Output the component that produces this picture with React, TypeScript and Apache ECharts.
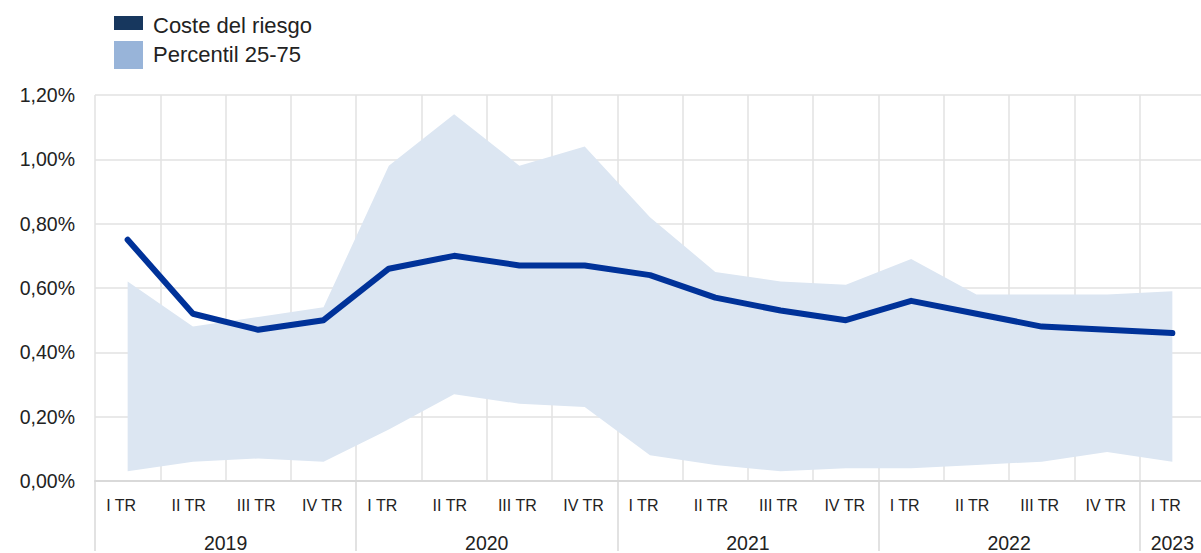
import React, { useEffect, useRef } from "react";
import * as echarts from "echarts";

const quarters = [
  "I TR", "II TR", "III TR", "IV TR",
  "I TR", "II TR", "III TR", "IV TR",
  "I TR", "II TR", "III TR", "IV TR",
  "I TR", "II TR", "III TR", "IV TR",
  "I TR",
];
const yearLabels = ["2019", "2020", "2021", "2022", "2023"];
const yearFirstIndex = [0, 4, 8, 12, 16];
const yearQuarterCount = [4, 4, 4, 4, 1];

const costeDelRiesgo = [0.75, 0.52, 0.47, 0.5, 0.66, 0.7, 0.67, 0.67, 0.64, 0.57, 0.53, 0.5, 0.56, 0.52, 0.48, 0.47, 0.46];
const percentil25 = [0.03, 0.06, 0.07, 0.06, 0.16, 0.27, 0.24, 0.23, 0.08, 0.05, 0.03, 0.04, 0.04, 0.05, 0.06, 0.09, 0.06];
const percentil75 = [0.62, 0.48, 0.51, 0.54, 0.98, 1.14, 0.98, 1.04, 0.82, 0.65, 0.62, 0.61, 0.69, 0.58, 0.58, 0.58, 0.59];

const yMin = 0;
const yMax = 1.2;
const yStep = 0.2;

const legendNames = ["Coste del riesgo", "Percentil 25-75"];

const FONT = "'Liberation Sans', Arial, sans-serif";
const TEXT = "#222222";
const GRID = "#e2e2e2";
const LINE = "#003299";
const BAND = "#dce6f2";

export default function App() {
  const ref = useRef<HTMLDivElement>(null);

  useEffect(() => {
    if (!ref.current) return;
    const chart = echarts.init(ref.current, undefined, { renderer: "svg" });

    const bandWidth = percentil75.map((v, i) => +(v - percentil25[i]).toFixed(4));
    const yearCenters = yearFirstIndex.map((f, i) => f + (yearQuarterCount[i] - 1) / 2);

    chart.setOption({
      animation: false,
      backgroundColor: "#ffffff",
      textStyle: { fontFamily: FONT, color: TEXT },
      grid: { left: 95, top: 95, width: 1110, height: 390, containLabel: false },
      xAxis: [
        {
          type: "category",
          data: quarters,
          boundaryGap: true,
          axisLine: { show: true, lineStyle: { color: "#d9d9d9", width: 2 } },
          axisTick: {
            show: true,
            interval: (i: number) => yearFirstIndex.includes(i),
            length: 70,
            lineStyle: { color: "#d9d9d9", width: 1.5 },
          },
          splitLine: { show: true, interval: 0, lineStyle: { color: GRID, width: 1.5 } },
          axisLabel: {
            interval: 0,
            margin: 16,
            fontSize: 16,
            color: TEXT,
            fontFamily: FONT,
            formatter: (v: string) => "{q|" + v + "}",
            rich: { q: { width: 43, align: "left", fontSize: 16, color: TEXT, fontFamily: FONT } },
          },
        },
        {
          type: "value",
          min: -0.5,
          max: quarters.length - 0.5,
          interval: 0.5,
          position: "bottom",
          axisLine: { show: false },
          axisTick: { show: false },
          splitLine: { show: false },
          axisLabel: {
            margin: 52,
            fontSize: 19.5,
            color: TEXT,
            fontFamily: FONT,
            showMinLabel: true,
            showMaxLabel: true,
            formatter: (v: number) => {
              const k = yearCenters.findIndex((c) => Math.abs(c - v) < 1e-6);
              return k >= 0 ? yearLabels[k] : "";
            },
          },
        },
      ],
      yAxis: {
        type: "value",
        min: yMin,
        max: yMax,
        interval: yStep,
        axisLine: { show: false },
        axisTick: { show: false },
        splitLine: { show: true, lineStyle: { color: GRID, width: 1.5 } },
        axisLabel: {
          margin: 20,
          fontSize: 19.5,
          color: TEXT,
          fontFamily: FONT,
          formatter: (v: number) => v.toFixed(2).replace(".", ",") + "%",
        },
      },
      series: [
        {
          name: "p25",
          type: "line",
          xAxisIndex: 0,
          data: percentil25,
          stack: "band",
          symbol: "none",
          lineStyle: { opacity: 0, width: 0 },
          silent: true,
          z: 1,
        },
        {
          name: legendNames[1],
          type: "line",
          xAxisIndex: 0,
          data: bandWidth,
          stack: "band",
          symbol: "none",
          lineStyle: { opacity: 0, width: 0 },
          areaStyle: { color: BAND, opacity: 1 },
          silent: true,
          z: 1,
        },
        {
          name: legendNames[0],
          type: "line",
          xAxisIndex: 0,
          data: costeDelRiesgo,
          symbol: "none",
          lineStyle: { color: LINE, width: 6, cap: "round", join: "round" },
          z: 3,
        },
      ],
      graphic: [
        { type: "rect", shape: { x: 114, y: 16, width: 29, height: 14 }, style: { fill: "#17375e" } },
        { type: "rect", shape: { x: 114, y: 41, width: 29, height: 28 }, style: { fill: "#98b4d9" } },
        {
          type: "text",
          x: 153,
          y: 25,
          style: { text: legendNames[0], fontSize: 22, fontFamily: FONT, fill: TEXT, verticalAlign: "middle" },
        },
        {
          type: "text",
          x: 153,
          y: 54,
          style: { text: legendNames[1], fontSize: 22, fontFamily: FONT, fill: TEXT, verticalAlign: "middle" },
        },
      ],
    });

    return () => chart.dispose();
  }, []);

  return (
    <div
      style={{
        position: "fixed",
        left: 0,
        top: 0,
        width: 1201,
        height: 553,
        overflow: "hidden",
        background: "#ffffff",
      }}
    >
      <div ref={ref} style={{ width: 1212, height: 553 }} />
    </div>
  );
}
